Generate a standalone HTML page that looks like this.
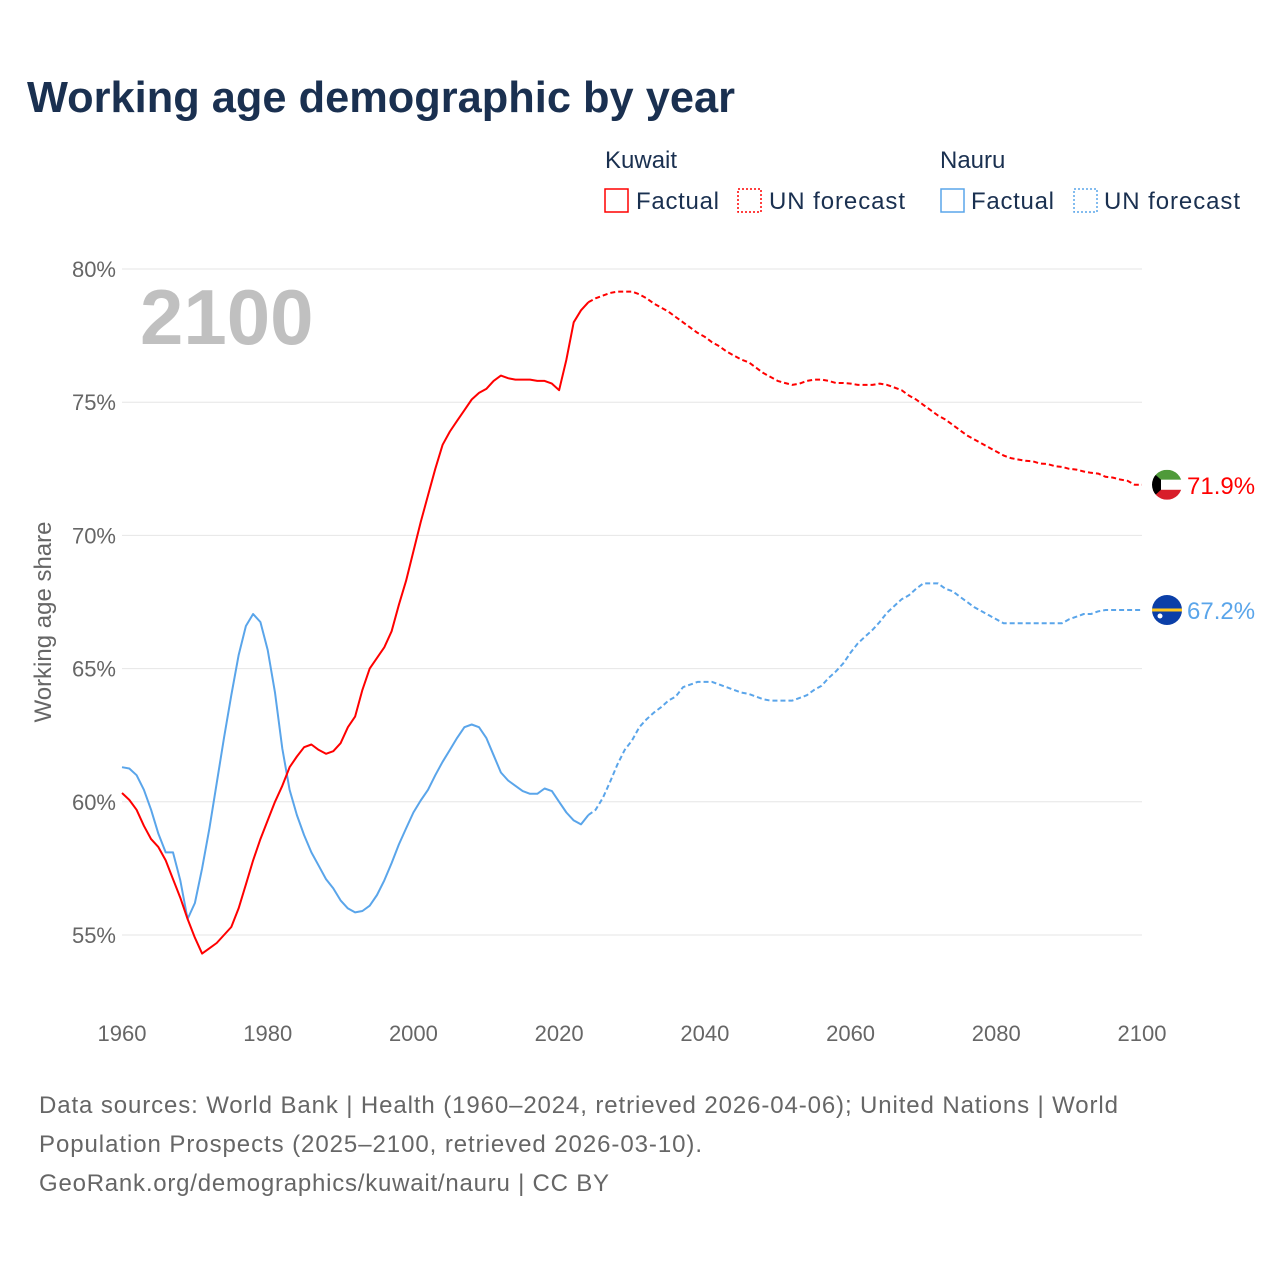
<!DOCTYPE html>
<html><head><meta charset="utf-8"><style>
html,body{margin:0;padding:0;background:#fff;}
body{width:1280px;height:1280px;position:relative;overflow:hidden;font-family:"Liberation Sans",sans-serif;}
</style></head><body>
<svg id="chart" width="1280" height="1280" xmlns="http://www.w3.org/2000/svg" style="position:absolute;left:0;top:0">
<text x="27" y="112" font-size="44" font-weight="bold" fill="#1a3050" textLength="708" lengthAdjust="spacingAndGlyphs" font-family="Liberation Sans, sans-serif">Working age demographic by year</text>
<g font-size="24" fill="#1a3050" font-family="Liberation Sans, sans-serif">
<text x="605" y="168">Kuwait</text>
<rect x="605" y="189" width="23" height="23" fill="none" stroke="#f00" stroke-width="1.5"/>
<text x="636" y="209" textLength="83">Factual</text>
<rect x="738" y="189" width="23" height="23" fill="none" stroke="#f00" stroke-width="1.5" stroke-dasharray="2,2"/>
<text x="769" y="209" textLength="136">UN forecast</text>
<text x="940" y="168">Nauru</text>
<rect x="941" y="189" width="23" height="23" fill="none" stroke="#5aa5ea" stroke-width="1.5"/>
<text x="971" y="209" textLength="83">Factual</text>
<rect x="1074" y="189" width="23" height="23" fill="none" stroke="#5aa5ea" stroke-width="1.5" stroke-dasharray="2,2"/>
<text x="1104" y="209" textLength="136">UN forecast</text>
</g>
<text x="140" y="344" font-size="78" font-weight="bold" fill="#c0c0c0" font-family="Liberation Sans, sans-serif">2100</text>
<text transform="translate(51,622) rotate(-90)" text-anchor="middle" font-size="24" fill="#666" font-family="Liberation Sans, sans-serif">Working age share</text>
<g id="grid"></g><g id="xt"></g><g id="series"></g><g id="ends"></g>
<g font-size="24" fill="#666" font-family="Liberation Sans, sans-serif">
<text x="39" y="1113" textLength="1079">Data sources: World Bank | Health (1960–2024, retrieved 2026-04-06); United Nations | World</text>
<text x="39" y="1152" textLength="663">Population Prospects (2025–2100, retrieved 2026-03-10).</text>
<text x="39" y="1191" textLength="570">GeoRank.org/demographics/kuwait/nauru | CC BY</text>
</g>
</svg>
<script>
const yTicks=[55,60,65,70,75,80];
const xTicks=[1960,1980,2000,2020,2040,2060,2080,2100];
const kuwaitFactual=[60.33,60.07,59.7,59.1,58.6,58.3,57.8,57.1,56.4,55.6,54.9,54.3,54.5,54.7,55.0,55.3,56.0,56.9,57.8,58.6,59.3,60.0,60.6,61.3,61.7,62.05,62.15,61.95,61.8,61.9,62.2,62.8,63.2,64.2,65.0,65.4,65.8,66.4,67.4,68.3,69.4,70.5,71.5,72.5,73.4,73.9,74.3,74.7,75.1,75.35,75.5,75.8,76.0,75.9,75.85,75.85,75.85,75.8,75.8,75.7,75.45,76.6,78.0,78.45,78.75];
const kuwaitForecast=[78.9,79.0,79.1,79.15,79.15,79.15,79.05,78.9,78.7,78.55,78.4,78.2,78.0,77.8,77.6,77.45,77.25,77.1,76.9,76.75,76.6,76.5,76.3,76.1,75.95,75.8,75.72,75.65,75.7,75.8,75.85,75.85,75.8,75.72,75.72,75.7,75.65,75.65,75.65,75.7,75.65,75.55,75.45,75.25,75.1,74.9,74.7,74.5,74.35,74.15,73.95,73.75,73.6,73.45,73.3,73.15,73.0,72.9,72.85,72.8,72.78,72.7,72.68,72.6,72.57,72.5,72.47,72.4,72.35,72.32,72.2,72.17,72.1,72.05,71.9,71.9];
const nauruFactual=[61.3,61.25,61.0,60.45,59.7,58.8,58.1,58.1,57.05,55.6,56.2,57.5,59.0,60.7,62.4,64.0,65.5,66.6,67.05,66.75,65.7,64.1,62.0,60.45,59.5,58.75,58.1,57.6,57.1,56.75,56.3,56.0,55.85,55.9,56.1,56.5,57.05,57.7,58.4,59.0,59.6,60.05,60.45,61.0,61.5,61.95,62.4,62.8,62.9,62.8,62.4,61.75,61.1,60.8,60.6,60.4,60.3,60.3,60.5,60.4,60.0,59.6,59.3,59.15,59.5];
const nauruForecast=[59.7,60.15,60.75,61.4,61.95,62.3,62.8,63.1,63.35,63.55,63.8,63.95,64.3,64.4,64.5,64.5,64.5,64.4,64.3,64.2,64.1,64.05,63.95,63.85,63.8,63.8,63.8,63.8,63.9,64.0,64.2,64.35,64.65,64.9,65.2,65.6,65.95,66.2,66.45,66.75,67.1,67.35,67.6,67.75,68.0,68.2,68.2,68.2,68.0,67.9,67.7,67.5,67.3,67.15,67.0,66.85,66.7,66.7,66.7,66.7,66.7,66.7,66.7,66.7,66.7,66.85,66.95,67.05,67.05,67.15,67.2,67.2,67.2,67.2,67.2,67.2];
const NS="http://www.w3.org/2000/svg";
const X=y=>122+(y-1960)*(1020/140);
const Y=v=>269+(80-v)*(666/25);
function mk(t,a,p){const e=document.createElementNS(NS,t);for(const k in a)e.setAttribute(k,a[k]);(p||document.getElementById('chart')).appendChild(e);return e;}
const grid=document.getElementById('grid');
yTicks.forEach(v=>{
 const l=mk('line',{x1:122,x2:1142,y1:Y(v),y2:Y(v),stroke:'#e6e6e6','stroke-width':1},grid);
 
 
 const t=mk('text',{x:116,y:Y(v)+8,'text-anchor':'end','font-size':22,fill:'#666'},grid);
 t.textContent=v+'%';
 
 
});
const xt=document.getElementById('xt');
xTicks.forEach(yr=>{
 const t=mk('text',{x:X(yr),y:1041,'text-anchor':'middle','font-size':22,fill:'#666'},xt);
 t.textContent=yr;
 
 
});
const S=document.getElementById('series');
function line(arr,start,color,dash,name){
 const pts=arr.map((v,i)=>X(start+i).toFixed(1)+','+Y(v).toFixed(1)).join(' ');
 const p=mk('polyline',{points:pts,fill:'none',stroke:color,'stroke-width':2,'stroke-linejoin':'round'},S);
 if(dash)p.setAttribute('stroke-dasharray','5,3');
 
 
}
line(nauruFactual,1960,'#5aa5ea',false,'nauru-factual-line');
line([nauruFactual[nauruFactual.length-1]].concat(nauruForecast),2024,'#5aa5ea',true,'nauru-forecast-line');
line(kuwaitFactual,1960,'#f00',false,'kuwait-factual-line');
line([kuwaitFactual[kuwaitFactual.length-1]].concat(kuwaitForecast),2024,'#f00',true,'kuwait-forecast-line');
const E=document.getElementById('ends');
const kv=kuwaitForecast[kuwaitForecast.length-1], nv=nauruForecast[nauruForecast.length-1];
const kg=mk('g',{},E);


const ky=Y(kv);
mk('clipPath',{id:'kc'},kg).appendChild(document.createElementNS(NS,'circle'));
const kcc=document.querySelector('#kc circle');kcc.setAttribute('cx',1167);kcc.setAttribute('cy',ky);kcc.setAttribute('r',15);
const kf=mk('g',{'clip-path':'url(#kc)'},kg);
mk('rect',{x:1150,y:ky-15,width:34,height:10,fill:'#4f9a3a'},kf);
mk('rect',{x:1150,y:ky-5,width:34,height:10,fill:'#fff'},kf);
mk('rect',{x:1150,y:ky+5,width:34,height:10,fill:'#d81e2a'},kf);
mk('polygon',{points:`1150,${ky-15} 1161,${ky-5} 1161,${ky+5} 1150,${ky+15}`,fill:'#000'},kf);
const kt=mk('text',{x:1187,y:ky+9,'font-size':24,fill:'#f00'},E);
kt.textContent=kv.toFixed(1)+'%';


const ng=mk('g',{},E);


const ny=Y(nv);
mk('circle',{cx:1167,cy:ny,r:15,fill:'#0b3fa8'},ng);
mk('rect',{x:1152,y:ny-1.5,width:30,height:3,fill:'#ffc61e'},ng);
mk('circle',{cx:1160,cy:ny+6,r:2.5,fill:'#fff'},ng);
const nt=mk('text',{x:1187,y:ny+9,'font-size':24,fill:'#5aa5ea'},E);
nt.textContent=nv.toFixed(1)+'%';


</script>
</body></html>
